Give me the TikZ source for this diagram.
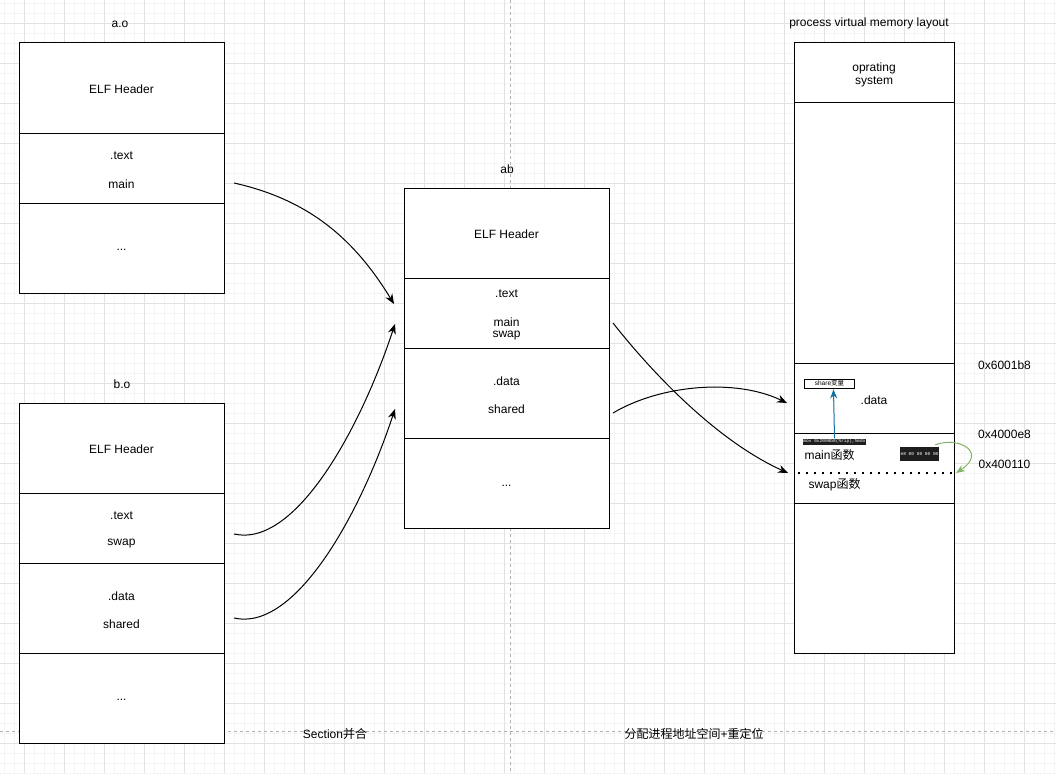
\documentclass[tikz,border=0pt]{standalone}
\usepackage{fontspec}
\setmainfont{Liberation Sans}
\setmonofont{Liberation Mono}
\newfontfamily\cjk{Noto Sans CJK SC}
\usetikzlibrary{arrows.meta}
\definecolor{gridmajor}{HTML}{E2E2E2}
\definecolor{gridminor}{HTML}{F4F4F4}
\definecolor{sepline}{HTML}{B0B0B0}
\definecolor{bluearr}{HTML}{10739E}
\definecolor{greenarr}{HTML}{82B366}
\definecolor{codebg}{HTML}{1E1E1E}
\begin{document}
\begin{tikzpicture}[x=1pt,y=-1pt,
  sec/.style={draw=black, fill=white, line width=1pt, minimum width=205pt, inner sep=0pt, outer sep=0pt, anchor=north west},
  vsec/.style={sec, minimum width=160pt},
  lbl/.style={font=\fontsize{12}{14}\selectfont, inner sep=0pt, yshift=-0.8pt},
  conn/.style={line width=1pt, -{Stealth[length=10pt,width=8pt]}},
  code/.style={fill=codebg, text=white, inner sep=0.6pt, font=\ttfamily\fontsize{4.5}{5}\selectfont}]
\useasboundingbox (0,0) rectangle (1056,773);
\fill[white] (0,0) rectangle (1056,773);
% grid
\foreach \x in {4,14,...,1054} \draw[gridminor, line width=0.6pt] (\x,0) -- (\x,773);
\foreach \y in {3,13,...,773} \draw[gridminor, line width=0.6pt] (0,\y) -- (1056,\y);
\foreach \x in {24,64,...,1054} \draw[gridmajor, line width=0.9pt] (\x,0) -- (\x,773);
\foreach \y in {23,63,...,773} \draw[gridmajor, line width=0.9pt] (0,\y) -- (1056,\y);
% separators
\draw[sepline, line width=0.8pt, dash pattern=on 3pt off 3pt] (510,0) -- (510,773);
\draw[sepline, line width=0.8pt, dash pattern=on 3pt off 3pt] (0,731) -- (1056,731);

% ---------- a.o ----------
\node[lbl] (aoT) at (120,24) {a.o};
\node[sec, minimum height=90pt] (aoH) at (19,43) {};
\node[sec, minimum height=70pt] (aoX) at (19,133) {};
\node[sec, minimum height=90pt] (aoD) at (19,203) {};
\node[lbl] at (aoH.center) {ELF Header};
\node[lbl] at (121.5,155) {.text};
\node[lbl] at (121.5,183) {main};
\node[lbl] at (121.5,249) {...};

% ---------- b.o ----------
\node[lbl] (boT) at (122,383) {b.o};
\node[sec, minimum height=90pt] (boH) at (19,403) {};
\node[sec, minimum height=70pt] (boX) at (19,493) {};
\node[sec, minimum height=90pt] (boD) at (19,563) {};
\node[sec, minimum height=90pt] (boE) at (19,653) {};
\node[lbl] at (boH.center) {ELF Header};
\node[lbl] at (121.5,515) {.text};
\node[lbl] at (121.5,543) {swap};
\node[lbl] at (121.5,595) {.data};
\node[lbl] at (121.5,623) {shared};
\node[lbl] at (121.5,699) {...};

% ---------- ab ----------
\node[lbl] (abT) at (507,168) {ab};
\node[sec, minimum height=90pt] (abH) at (404,188) {};
\node[sec, minimum height=70pt] (abX) at (404,278) {};
\node[sec, minimum height=90pt] (abD) at (404,348) {};
\node[sec, minimum height=90pt] (abE) at (404,438) {};
\node[lbl] at (abH.center) {ELF Header};
\node[lbl] at (506.5,293) {.text};
\node[lbl] at (506.5,321) {main};
\node[lbl] at (506.5,335) {swap};
\node[lbl] at (506.5,380) {.data};
\node[lbl] at (506.5,408) {shared};
\node[lbl] at (506.5,485) {...};

% ---------- process virtual memory layout ----------
\node[lbl] (vmT) at (869,23) {process virtual memory layout};
\node[vsec, minimum height=60pt] (vmOS) at (794,43) {};
\node[vsec, minimum height=260pt] (vmFree) at (794,103) {};
\node[vsec, minimum height=70pt] (vmData) at (794,363) {};
\node[vsec, minimum height=70pt] (vmText) at (794,433) {};
\node[vsec, minimum height=150pt] (vmRest) at (794,503) {};
\node[lbl, align=center, font=\fontsize{12}{13.5}\selectfont] at (874,74) {oprating\\system};
\node[lbl] at (874,399) {.data};
\node[draw=black, fill=white, line width=0.8pt, minimum width=50pt, minimum height=9pt, inner sep=0pt, font=\fontsize{6.5}{7}\selectfont] (share) at (829.5,383.5) {share{\cjk 变量}};
\node[lbl] (mainF) at (829.5,454) {main{\cjk 函数}};
\node[lbl] (swapF) at (834.5,484) {swap{\cjk 函数}};
\node[code, minimum width=63pt, minimum height=6pt] (mov) at (834.5,441.5) {mov 0x2000b8(\%rip),\%edx};
\node[code, minimum width=37pt, minimum height=14pt, text depth=-3pt] (call) at (919.5,454) {e8 00 00 00 00};
\coordinate (dotL) at (794,473);
\coordinate (dotR) at (954,473);
\draw[line width=2pt, dash pattern=on 2pt off 6pt] ([xshift=4pt]dotL) -- (dotR);

\node[lbl] (a1) at (1004.5,364) {0x6001b8};
\node[lbl] (a2) at (1004.5,434) {0x4000e8};
\node[lbl] (a3) at (1004.5,464) {0x400110};

% bottom labels
\node[lbl] (s1) at (335,733) {Section{\cjk 并合}};
\node[lbl] (s2) at (694,733) {{\cjk 分配进程地址空间}+{\cjk 重定位}};

% ---------- connectors ----------
\coordinate (aoOut) at (234,183);
\coordinate (boOut1) at (234,534);
\coordinate (boOut2) at (234,618);
\coordinate (abIn1) at (394,304);
\coordinate (abIn2) at (395,324);
\coordinate (abIn3) at (395,409);
\coordinate (abOut1) at (613,323);
\coordinate (abOut2) at (613,413);
\coordinate (vmIn1) at (788,473);
\coordinate (vmIn2) at (787,403);
\coordinate (greenEnd) at (956,473);

\draw[conn] (aoOut) .. controls (310,200) and (355,240) .. (abIn1);
\draw[conn] (boOut1) .. controls (295,548) and (360,430) .. (abIn2);
\draw[conn] (boOut2) .. controls (295,632) and (360,515) .. (abIn3);
\draw[conn] (abOut1) .. controls (650,370) and (715,440) .. (vmIn1);
\draw[conn] (abOut2) .. controls (660,385) and (735,378) .. (vmIn2);

\draw[bluearr, line width=1pt, -{Stealth[length=9pt,width=7pt]}] (mov.north) -- ([xshift=4pt,yshift=-1pt]share.south);
\draw[greenarr, line width=1pt, -{Stealth[length=9pt,width=7pt]}] (call.north east) ++(-4pt,2pt) .. controls (958,436) and (988,452) .. (greenEnd);
\end{tikzpicture}
\end{document}
